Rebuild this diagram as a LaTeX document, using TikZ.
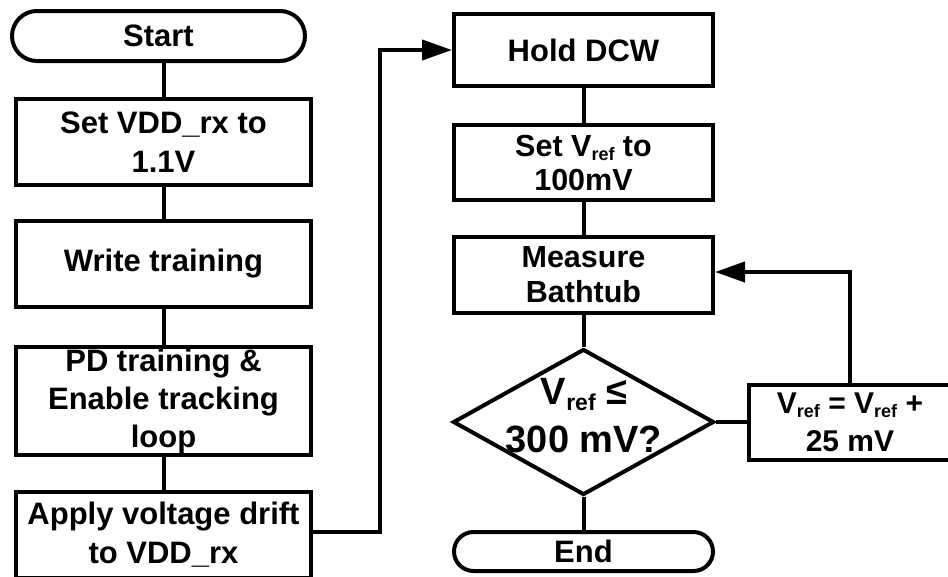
\documentclass[tikz,border=0pt]{standalone}
\usepackage{fontspec}
\setmainfont{Liberation Sans}
\usetikzlibrary{arrows.meta,shapes.geometric}
\newcommand{\rsub}[2]{\raisebox{-0.16em}{\fontsize{#1}{#1}\selectfont #2}}
\begin{document}
\begin{tikzpicture}[x=1pt,y=-1pt,
  every node/.style={align=center, inner sep=0pt},
  procbox/.style={draw, rectangle, line width=4pt},
  termbox/.style={draw, rectangle, line width=4pt},
  decbox/.style={draw, diamond, line width=4pt, minimum width=261pt, minimum height=146pt},
  fbig/.style={font=\fontsize{31}{39}\selectfont\bfseries},
  conn/.style={line width=4pt},
  tip/.style={-{Triangle[length=30pt,width=20pt]}}]
\useasboundingbox (0,0) rectangle (948,576);
\clip (0,0) rectangle (948,576);
% left column
\node[termbox, fbig, minimum width=293pt, minimum height=50pt, rounded corners=25pt] (start) at (158.5,36) {Start};
\node[procbox, fbig, minimum width=295pt, minimum height=86pt] (setvdd) at (163.5,142) {Set VDD\_rx to\\1.1V};
\node[procbox, fbig, minimum width=295pt, minimum height=86pt] (write) at (163.5,264) {Write training};
\node[procbox, fbig, minimum width=295pt, minimum height=108pt] (pd) at (163.5,401) {PD training \&\\[-1pt]Enable tracking\\[-1pt]loop};
\node[procbox, fbig, minimum width=295pt, minimum height=86pt] (apply) at (163.5,535) {Apply voltage drift\\to VDD\_rx};
% right column
\node[procbox, fbig, minimum width=259pt, minimum height=72pt] (hold) at (583.5,50) {Hold DCW};
\node[procbox, font=\fontsize{30.5}{34}\selectfont\bfseries, minimum width=259pt, minimum height=75pt] (setv) at (583.5,162.5) {Set V\rsub{18}{ref} to\\100mV};
\node[procbox, font=\fontsize{30.5}{35}\selectfont\bfseries, minimum width=259pt, minimum height=76pt] (meas) at (583.5,275) {Measure\\Bathtub};
\node[decbox] (dec) at (583.5,422) {};
\node[font=\fontsize{38}{48}\selectfont\bfseries] (dectxt) at (584,416) {V\rsub{23}{ref} ≤\\300 mV?};
\node[termbox, fbig, minimum width=259pt, minimum height=39pt, rounded corners=19.5pt] (endn) at (583.5,551.5) {End};
\node[procbox, font=\fontsize{30}{38}\selectfont\bfseries, minimum width=202pt, minimum height=75pt] (upd) at (850,422) {V\rsub{18}{ref} = V\rsub{18}{ref} +\\25 mV};
% connectors
\coordinate (bend) at (380,532);
\coordinate (fb) at (850,272);
\draw[conn] (setvdd.north |- start.south) -- (setvdd.north);
\draw[conn] (setvdd.south) -- (write.north);
\draw[conn] (write.south) -- (pd.north);
\draw[conn] (pd.south) -- (apply.north);
\draw[conn, tip] (apply.east |- bend) -- (bend) |- (hold.west);
\draw[conn] (hold.south) -- (setv.north);
\draw[conn] (setv.south) -- (meas.north);
\draw[conn] (meas.south) -- (dec.north);
\draw[conn] (dec.south) -- (endn.north);
\draw[conn] (dec.east) -- (upd.west);
\draw[conn, tip] (upd.north) |- (meas.east |- fb);
\end{tikzpicture}
\end{document}
